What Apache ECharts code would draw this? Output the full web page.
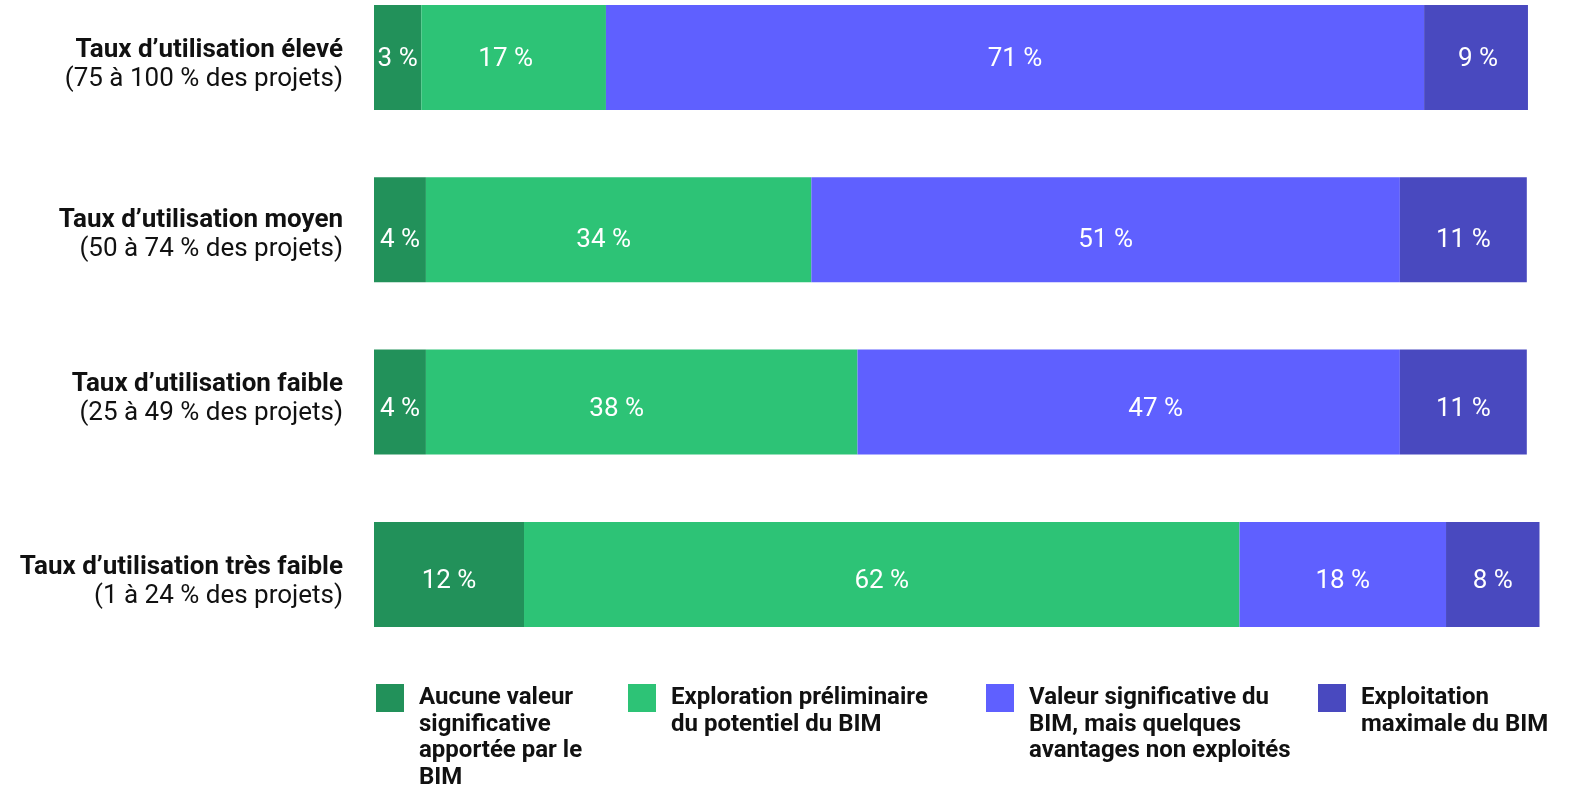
<!DOCTYPE html>
<html>
<head>
<meta charset="utf-8">
<script src="https://cdn.jsdelivr.net/npm/echarts@6/dist/echarts.min.js"></script>
<style>
html,body{margin:0;padding:0;background:#fff;}
#chart{width:1571px;height:787px;}
</style>
</head>
<body>
<div id="chart"></div>
<script>
// Categories (title + range line)
const catTitles = ['Taux d’utilisation élevé', 'Taux d’utilisation moyen', 'Taux d’utilisation faible', 'Taux d’utilisation très faible'];
const catRanges = ['(75 à 100 % des projets)', '(50 à 74 % des projets)', '(25 à 49 % des projets)', '(1 à 24 % des projets)'];

// Series names (legend)
const seriesNames = [
  'Aucune valeur\nsignificative\napportée par le\nBIM',
  'Exploration préliminaire\ndu potentiel du BIM',
  'Valeur significative du\nBIM, mais quelques\navantages non exploités',
  'Exploitation\nmaximale du BIM'
];

// Bar lengths (as drawn) per series
const noValue      = [4.1, 4.5, 4.5, 13.0];
const exploration  = [16.0, 33.4, 37.4, 62.0];
const significant  = [70.9, 51.0, 47.0, 17.9];
const maximal      = [9.0, 11.0, 11.0, 8.1];

// Printed percentages per series
const noValueLbl     = [3, 4, 4, 12];
const explorationLbl = [17, 34, 38, 62];
const significantLbl = [71, 51, 47, 18];
const maximalLbl     = [9, 11, 11, 8];

const colors = ['#22915A', '#2DC376', '#5F60FF', '#4949BF'];
const FONT = 'Roboto, "Noto Sans", sans-serif';

const seriesValues = [noValue, exploration, significant, maximal];
const seriesLabels = [noValueLbl, explorationLbl, significantLbl, maximalLbl];

// label placement nudges (style only, px)
const labelDx = [[0, 0, 0, 0], [-8, -15, -25, 0], [0, 0, 27, 0], [2, 0, 0, 0]];
const labelDy = [2, 11, 7, 7];

const chart = echarts.init(document.getElementById('chart'), null, {renderer: 'canvas'});

const series = seriesNames.map((name, i) => ({
  name: name,
  type: 'bar',
  stack: 'total',
  barWidth: 105,
  data: seriesValues[i].map((v, j) => ({value: v, label: {offset: [labelDx[i][j], labelDy[j]]}})),
  itemStyle: {color: colors[i]},
  label: {
    show: true,
    position: 'inside',
    color: '#ffffff',
    fontFamily: FONT,
    fontSize: 26,
    formatter: p => seriesLabels[i][p.dataIndex] + ' %'
  },
  emphasis: {disabled: true}
}));

const legendLeft = [376, 628, 986, 1318];
const LH = 26.5, ICON = 28, ICON_CENTER = 698;
const legends = seriesNames.map((name, i) => {
  const n = name.split('\n').length;
  return {
    data: [name],
    left: legendLeft[i],
    top: ICON_CENTER - (2 * n - 1) * LH / 2,
    padding: 0,
    orient: 'horizontal',
    itemWidth: ICON,
    itemHeight: ICON,
    icon: 'rect',
    selectedMode: false,
    // blank leading lines keep the first text line level with the swatch
    formatter: nm => '\n'.repeat(n - 1) + nm,
    textStyle: {
      fontFamily: FONT,
      fontWeight: 'bold',
      fontSize: 24,
      lineHeight: LH,
      color: '#111111',
      padding: [0, 0, 0, 10]
    }
  };
});

// small per-row vertical nudges (px) of the two-line axis labels (style only)
const labelShift = [7, 5, -3, 8];
const rich = {};
catTitles.forEach((t, i) => {
  const s = labelShift[i];
  const pad = s >= 0 ? [2 * s, 0, 0, 0] : [0, 0, -2 * s, 0];
  rich['b' + i] = {fontFamily: FONT, fontWeight: 'bold', fontSize: 26, lineHeight: 29, color: '#111111', align: 'right', padding: pad};
  rich['r' + i] = {fontFamily: FONT, fontSize: 26, lineHeight: 29, color: '#111111', align: 'right', padding: pad};
});

chart.setOption({
  animation: false,
  color: colors,
  grid: {left: 374, right: 31.5, top: -28.65, bottom: 126.45, containLabel: false, outerBoundsMode: 'none'},
  xAxis: {type: 'value', min: 0, max: 101, show: false},
  yAxis: {
    type: 'category',
    inverse: true,
    data: catTitles,
    axisLine: {show: false},
    axisTick: {show: false},
    splitLine: {show: false},
    axisLabel: {
      margin: 31,
      align: 'right',
      formatter: (v, idx) => '{b' + idx + '|' + catTitles[idx] + '}\n{r' + idx + '|' + catRanges[idx] + '}',
      rich: rich
    }
  },
  legend: legends,
  series: series
});
</script>
</body>
</html>
